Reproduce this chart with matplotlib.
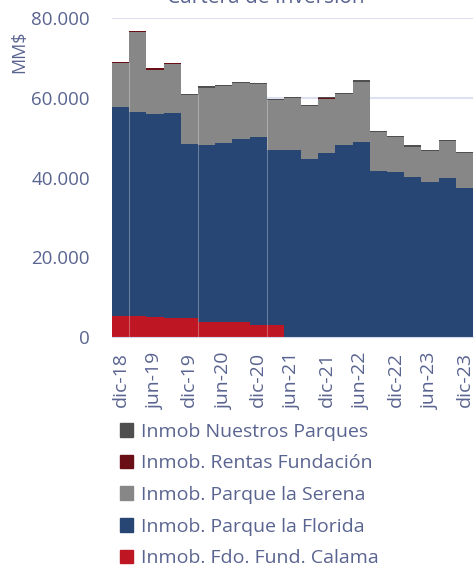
import numpy as np
import matplotlib
matplotlib.use('Agg')
import matplotlib.pyplot as plt
from matplotlib.patches import Patch

plt.rcParams['font.family'] = ['Open Sans', 'DejaVu Sans']

# Trimestres dic-18 .. dic-23 (MM$)
trimestres = ['dic-18', 'mar-19', 'jun-19', 'sep-19', 'dic-19', 'mar-20', 'jun-20',
              'sep-20', 'dic-20', 'mar-21', 'jun-21', 'sep-21', 'dic-21', 'mar-22',
              'jun-22', 'sep-22', 'dic-22', 'mar-23', 'jun-23', 'sep-23', 'dic-23']

calama = [5300, 5300, 4900, 4700, 4700, 3800, 3800, 3800, 3000, 3000,
          0, 0, 0, 0, 0, 0, 0, 0, 0, 0, 0]
florida = [52400, 51300, 51100, 51600, 43700, 44400, 45000, 45800, 47300, 44000,
           47000, 44600, 46200, 48100, 48900, 41700, 41400, 40200, 39000, 39900, 37500]
serena = [11000, 19900, 11100, 12200, 12400, 14400, 14100, 14100, 13200, 12400,
          12900, 13300, 13600, 12900, 15200, 9700, 8700, 7600, 7600, 9200, 8600]
rentas = [400, 400, 400, 400, 0, 0, 0, 0, 0, 0,
          0, 0, 200, 0, 0, 0, 0, 0, 0, 0, 0]
nuestros = [0, 0, 0, 0, 300, 300, 300, 300, 300, 300,
            300, 300, 300, 300, 300, 300, 300, 300, 300, 300, 300]

series = [calama, florida, serena, rentas, nuestros]
nombres = ['Inmob. Fdo. Fund. Calama', 'Inmob. Parque la Florida',
           'Inmob. Parque la Serena', 'Inmob. Rentas Fundación',
           'Inmob Nuestros Parques']
colores = ['#be1622', '#284673', '#878787', '#6b0f17', '#4f4f4f']
texto = '#5a6490'

n = len(trimestres)
x_bordes = np.arange(n + 1) - 0.5
datos = [np.append(s, s[-1]) for s in series]

fig = plt.figure(figsize=(4.74, 5.67), dpi=100)
ax = fig.add_axes([112 / 474, 1 - 337 / 567, 361 / 474, (337 - 18.3) / 567])

ax.stackplot(x_bordes, *datos, colors=colores, step='post', linewidth=0)

# lineas tenues entre algunos trimestres
total = np.sum(series, axis=0)
for i in [0, 4, 8]:
    ax.vlines(i + 0.5, 0, min(total[i], total[i + 1]), color='white', alpha=0.3, lw=0.8)

ax.set_xlim(-0.5, n - 0.5)
ax.set_ylim(0, 80000)
ax.set_yticks([0, 20000, 40000, 60000, 80000])
ax.set_yticklabels(['0', '20.000', '40.000', '60.000', '80.000'])
ax.set_xticks(range(0, n, 2))
ax.set_xticklabels(trimestres[::2], rotation=90)
ax.tick_params(axis='y', length=0, pad=16, labelsize=13.5, labelcolor=texto)
ax.tick_params(axis='x', length=0, pad=11, labelsize=14, labelcolor=texto)
ax.grid(axis='y', color='#dde0f0', lw=1.5)
ax.set_axisbelow(True)
for lado in ['top', 'right', 'left']:
    ax.spines[lado].set_visible(False)
ax.spines['bottom'].set_color('#d5d8e8')

fig.text(19 / 474, 1 - 52 / 567, 'MM$', rotation=90, ha='center', va='center',
         fontsize=13, color=texto)

fig.text(266 / 474, 1 - 3 / 567, 'Cartera de Inversión', ha='center', va='baseline',
         fontsize=15, color=texto)

handles = [Patch(color=c) for c in colores][::-1]
fig.legend(handles, nombres[::-1], loc='upper left', bbox_to_anchor=(112 / 474, 1 - 415 / 567),
           frameon=False, fontsize=14, labelcolor=texto, handlelength=0.7, handleheight=0.7,
           handletextpad=0.4, labelspacing=0.7, borderaxespad=0)

fig.savefig('out.png', dpi=100)
